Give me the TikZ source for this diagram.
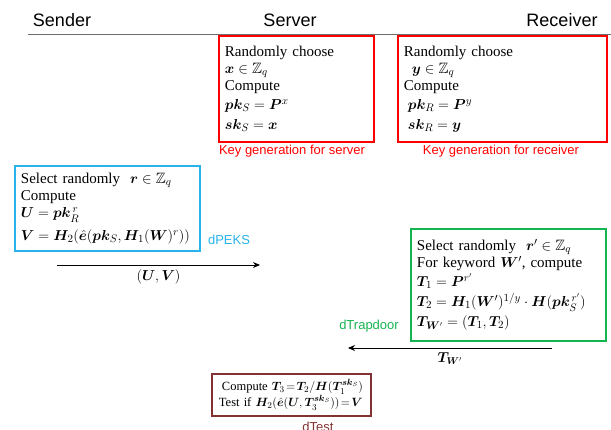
\documentclass[tikz,border=0pt]{standalone}
\usepackage{amsmath,amssymb,bm}
\usepackage{fontspec}
\setmainfont{Liberation Serif}
\setsansfont{Liberation Sans}
\usetikzlibrary{arrows.meta}
\definecolor{keyred}{RGB}{255,0,0}
\definecolor{pekscyan}{RGB}{40,180,235}
\definecolor{trapgreen}{RGB}{20,180,80}
\definecolor{testbrown}{RGB}{130,50,50}
\definecolor{rulegray}{RGB}{110,110,110}
\newcommand{\bv}[1]{\bm{#1}}
\tikzset{
  stepbox/.style={draw, line width=1.9pt, anchor=north west, inner xsep=6pt,
    inner ysep=3pt, align=left, text=black, font=\fontsize{15}{17}\selectfont},
  hdr/.style={font=\sffamily\fontsize{18}{20}\selectfont},
  steptitle/.style={font=\sffamily\fontsize{13}{15}\selectfont},
  msg/.style={-{Stealth[length=7pt,width=6pt]}, line width=0.9pt},
  msglabel/.style={font=\fontsize{14}{16}\selectfont}
}
\begin{document}
\begin{tikzpicture}[x=1pt,y=-1pt]
\useasboundingbox (0,0) rectangle (611,430);

% parties
\node[hdr] (sender) at (62,20) {Sender};
\node[hdr] (server) at (290,20) {Server};
\node[hdr] (receiver) at (562,20) {Receiver};
\coordinate (ruleL) at (28,34);
\coordinate (ruleR) at (611,34);
\draw[rulegray, line width=0.8pt] (ruleL) -- (ruleR);

% key generation
\node[stepbox, draw=keyred, text width=143pt, minimum height=106pt] (srvkey) at (218,35)
  {Randomly choose\\
   $\bv{x}\in\mathbb{Z}_q$\\
   Compute\\[2pt]
   $\bv{pk}_S=\bv{P}^{x}$\\[3pt]
   $\bv{sk}_S=\bv{x}$};
\node[steptitle, text=keyred] (srvcap) at (292,151) {Key generation for server};

\node[stepbox, draw=keyred, text width=197pt, minimum height=106pt] (rcvkey) at (397,35)
  {Randomly choose\\
   \hspace*{8pt}$\bv{y}\in\mathbb{Z}_q$\\
   Compute\\[2pt]
   \hspace*{4pt}$\bv{pk}_R=\bv{P}^{y}$\\[3pt]
   \hspace*{4pt}$\bv{sk}_R=\bv{y}$};
\node[steptitle, text=keyred] (rcvcap) at (501,151) {Key generation for receiver};

% dPEKS
\node[stepbox, draw=pekscyan, text width=173pt, minimum height=85pt] (peks) at (14,165)
  {Select randomly\ \ $\bv{r}\in\mathbb{Z}_q$\\
   Compute\\
   $\bv{U}=\bv{pk}_R^{\,r}$\\[6pt]
   $\bv{V}=\bv{H}_2(\hat{\bv{e}}(\bv{pk}_S,\bv{H}_1(\bv{W})^{r}))$};
\node[steptitle, text=pekscyan] (peksname) at (229,240) {dPEKS};
\coordinate (uvFrom) at (57,265);
\coordinate (uvTo) at (260,265);
\draw[msg] (uvFrom) -- node[msglabel, below=1pt] (uvlabel) {$(\bv{U},\bv{V})$} (uvTo);

% dTrapdoor
\node[stepbox, draw=trapgreen, text width=183pt, minimum height=112pt] (trap) at (410,228)
  {Select randomly\ \ $\bv{r}'\in\mathbb{Z}_q$\\
   For keyword\ $\bv{W}'$, compute\\[2pt]
   $\bv{T}_1=\bv{P}^{r'}$\\[3pt]
   $\bv{T}_2=\bv{H}_1(\bv{W}')^{1/y}\cdot\bv{H}(\bv{pk}_S^{\,r'})$\\[3pt]
   $\bv{T}_{\bv{W}'}=(\bv{T}_1,\bv{T}_2)$};
\node[steptitle, text=trapgreen] (trapname) at (369,326) {dTrapdoor};
\coordinate (twFrom) at (552,348);
\coordinate (twTo) at (348,348);
\draw[msg] (twFrom) -- node[msglabel, below=1pt] (twlabel) {$\bv{T}_{\bv{W}'}$} (twTo);

% dTest
\node[stepbox, draw=testbrown, text width=151pt, minimum height=42pt, inner xsep=4pt,
      inner ysep=2pt, font=\fontsize{12.5}{15}\selectfont] (test) at (211,373)
  {\hspace*{6pt}Compute $\bv{T}_3\!=\!\bv{T}_2/\bv{H}(\bv{T}_1^{\bv{sk}_S})$\\
   \hspace*{3pt}Test if\ $\bv{H}_2(\hat{\bv{e}}(\bv{U},\bv{T}_3^{\bv{sk}_S}))\!=\!\bv{V}$};
\node[steptitle, text=testbrown] (testname) at (318,427) {dTest};
\end{tikzpicture}
\end{document}
